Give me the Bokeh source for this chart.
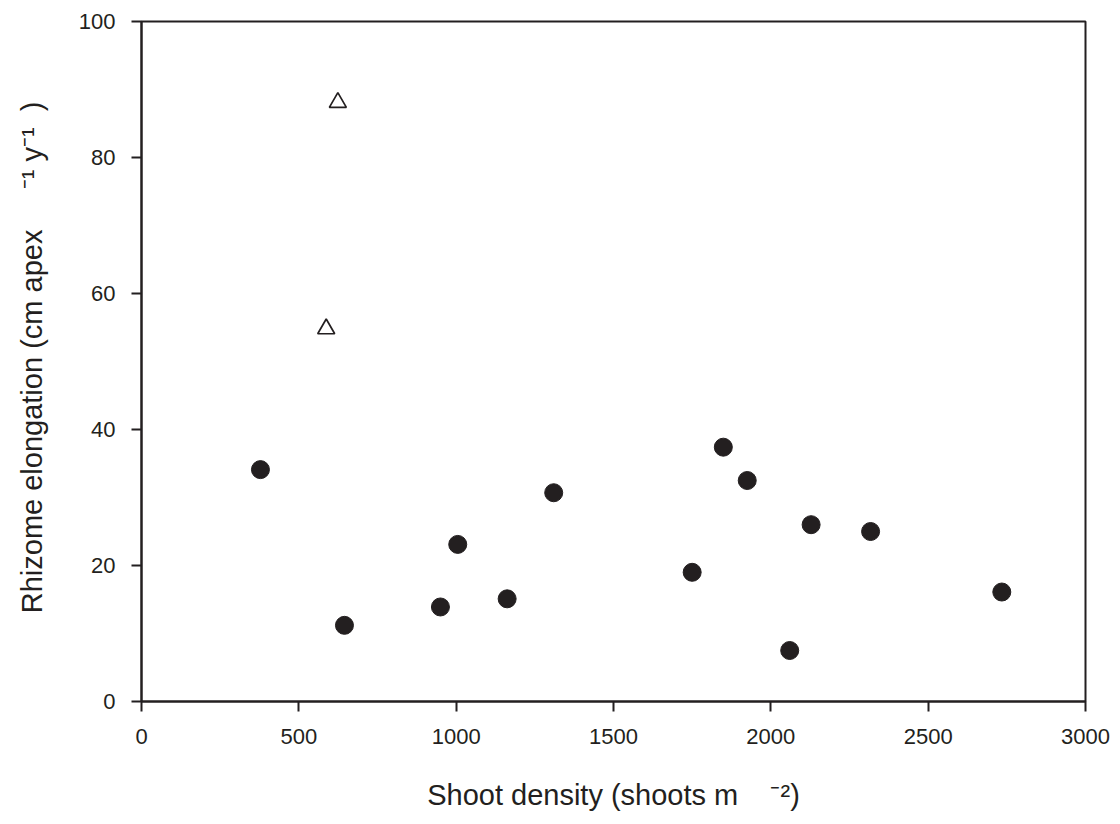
from bokeh.plotting import figure
from bokeh.models import Range1d, FixedTicker
from bokeh.embed import file_html
from bokeh.resources import INLINE

# Data
density_filled = [378, 645, 950, 1005, 1162, 1310, 1750, 1849, 1925, 2060, 2128, 2317, 2734]
elong_filled = [34.1, 11.2, 13.9, 23.1, 15.1, 30.7, 19.0, 37.4, 32.5, 7.5, 26.0, 25.0, 16.1]
density_open = [587, 624]
elong_open = [54.8, 88.1]
x_ticks = [0, 500, 1000, 1500, 2000, 2500, 3000]
y_ticks = [0, 20, 40, 60, 80, 100]
x_title = "Shoot density (shoots m\u00a0\u00a0\u00a0\u00a0\u207b\u00b2)"
y_title = "\u00a0Rhizome elongation (cm apex\u00a0\u00a0\u00a0\u00a0\u00a0\u207b\u00b9 y\u207b\u00b9\u00a0\u00a0)"

INK = "#231f20"
FONT = "Liberation Sans"

p = figure(
    frame_width=944, frame_height=680,
    min_border_left=141, min_border_right=27, min_border_top=21, min_border_bottom=115,
    x_range=Range1d(0, 3000), y_range=Range1d(0, 100),
    output_backend="svg", toolbar_location=None,
)
p.grid.visible = False
p.background_fill_color = "white"
p.border_fill_color = "white"
p.outline_line_color = INK
p.outline_line_width = 2

for ax in (p.xaxis[0], p.yaxis[0]):
    ax.axis_line_color = INK
    ax.axis_line_width = 2
    ax.major_tick_line_color = INK
    ax.major_tick_line_width = 2
    ax.major_tick_out = 10
    ax.major_tick_in = 0
    ax.minor_tick_line_color = None
    ax.major_label_text_font = FONT
    ax.major_label_text_font_size = "22px"
    ax.major_label_text_color = INK
    ax.axis_label_text_font = FONT
    ax.axis_label_text_font_size = "29px"
    ax.axis_label_text_font_style = "normal"
    ax.axis_label_text_color = INK

p.xaxis[0].ticker = FixedTicker(ticks=x_ticks)
p.yaxis[0].ticker = FixedTicker(ticks=y_ticks)
p.xaxis[0].major_label_standoff = 17
p.yaxis[0].major_label_standoff = 16
p.xaxis[0].axis_label_standoff = 32
p.yaxis[0].axis_label_standoff = 28
p.xaxis[0].axis_label = x_title
p.yaxis[0].axis_label = y_title

p.scatter(density_filled, elong_filled, marker="circle", size=18,
          fill_color=INK, line_color=INK, line_width=1)
p.scatter(density_open, elong_open, marker="triangle", size=17,
          fill_color=None, line_color=INK, line_width=1.7)

open("out.html", "w").write(file_html(p, INLINE))
